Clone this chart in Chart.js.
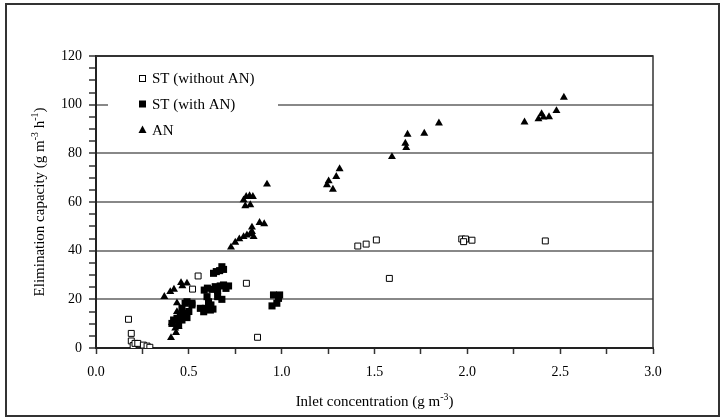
<!doctype html>
<html lang="en">
<head>
<meta charset="utf-8">
<title>Elimination capacity</title>
<script src="https://cdn.jsdelivr.net/npm/chart.js"></script>
<style>
body { margin: 0; background: #fff; }
</style>
</head>
<body>
<canvas id="myChart" width="721" height="418"></canvas>
<script>
// series labels
const seriesNames = ['ST (without AN)', 'ST (with AN)', 'AN'];

// ST (without AN) - open squares
const stWoX = [0.175, 0.19, 0.19, 0.20, 0.21, 0.225, 0.255, 0.275, 0.29, 0.52, 0.55, 0.81, 0.87, 1.41, 1.455, 1.51, 1.58, 1.97, 1.99, 1.98, 2.025, 2.42];
const stWoY = [11.8, 6.0, 2.9, 1.0, 1.9, 1.9, 1.2, 0.8, 0.3, 24.2, 29.6, 26.6, 4.4, 41.9, 42.7, 44.4, 28.6, 44.8, 44.8, 43.7, 44.3, 44.0];

// ST (with AN) - filled squares
const stWX = [0.678, 0.687, 0.648, 0.633, 0.666, 0.583, 0.625, 0.642, 0.669, 0.687, 0.714, 0.655, 0.678, 0.655, 0.598, 0.606, 0.619, 0.616, 0.589, 0.562, 0.58, 0.517, 0.48, 0.463, 0.472, 0.463, 0.956, 0.983, 0.974, 0.948, 0.989, 0.49, 0.517, 0.454, 0.436, 0.418, 0.409, 0.47, 0.445, 0.50, 0.49, 0.60, 0.63, 0.70];
const stWY = [33.4, 32.3, 31.4, 30.7, 31.8, 23.8, 24.1, 25.2, 25.5, 25.9, 25.5, 23.6, 20.0, 21.1, 21.1, 19.0, 17.7, 15.6, 16.3, 16.3, 14.9, 18.4, 18.4, 16.3, 13.6, 11.5, 21.8, 20.4, 18.4, 17.3, 21.8, 19.0, 17.7, 13.6, 12.2, 11.5, 10.1, 14.3, 9.4, 15.0, 12.5, 24.6, 16.0, 24.5];

// AN - filled triangles
const anX = [0.368, 0.40, 0.42, 0.458, 0.465, 0.49, 0.404, 0.431, 0.445, 0.436, 0.427, 0.409, 0.436, 0.427, 0.727, 0.75, 0.772, 0.795, 0.813, 0.831, 0.84, 0.84, 0.849, 0.881, 0.906, 0.921, 0.795, 0.809, 0.827, 0.845, 0.804, 0.831, 1.244, 1.253, 1.276, 1.294, 1.312, 1.594, 1.666, 1.671, 1.678, 1.768, 1.847, 2.308, 2.383, 2.40, 2.41, 2.44, 2.48, 2.52];
const anY = [21.1, 23.1, 24.1, 26.8, 25.5, 26.6, 4.2, 6.3, 8.8, 14.9, 11.5, 10.4, 18.5, 8.1, 41.4, 43.4, 44.8, 45.7, 46.4, 46.9, 47.8, 49.6, 45.7, 51.5, 51.0, 67.3, 60.8, 62.2, 62.5, 62.2, 58.4, 58.8, 67.0, 68.6, 65.2, 70.4, 73.6, 78.6, 84.1, 82.3, 87.8, 88.2, 92.4, 92.8, 94.1, 96.2, 94.8, 95.0, 97.5, 103.0];

const xTitle = [['Inlet concentration (g m', 0], ['-3', 1], [')', 0]];
const yTitle = [['Elimination capacity (g m', 0], ['-3', 1], [' h', 0], ['-1', 1], [')', 0]];

function pts(xs, ys) {
	let out = [];
	for (let i = 0; i < xs.length; i++) out.push({x: xs[i], y: ys[i]});
	return out;
}

const FONT = "'Liberation Serif', 'Times New Roman', serif";

// draw text with superscripts, centred on (0,0) with baseline at 0
function drawRich(ctx, parts, size) {
	let w = 0;
	parts.forEach(p => {
		ctx.font = (p[1] ? size * 0.66 : size) + 'px ' + FONT;
		w += ctx.measureText(p[0]).width;
	});
	let x = -w / 2;
	parts.forEach(p => {
		ctx.font = (p[1] ? size * 0.66 : size) + 'px ' + FONT;
		ctx.fillText(p[0], x, p[1] ? -size * 0.42 : 0);
		x += ctx.measureText(p[0]).width;
	});
}

const decor = {
	id: 'decor',
	beforeDatasetsDraw(chart) {
		const ctx = chart.ctx;
		// white legend background, hides the gridline
		ctx.save();
		ctx.fillStyle = '#fff';
		ctx.fillRect(108, 62, 170, 80);
		ctx.restore();
	},
	afterDraw(chart) {
		const ctx = chart.ctx;
		const a = chart.chartArea;
		ctx.save();
		// plot border right + top
		ctx.strokeStyle = '#333';
		ctx.lineWidth = 1.5;
		ctx.beginPath();
		ctx.moveTo(a.left, a.top);
		ctx.lineTo(a.right, a.top);
		ctx.lineTo(a.right, a.bottom);
		ctx.stroke();
		// outer frame
		ctx.lineWidth = 2;
		ctx.strokeRect(6, 4, 713, 412);

		// legend
		ctx.fillStyle = '#000';
		ctx.textBaseline = 'middle';
		ctx.textAlign = 'left';
		ctx.font = '15px ' + FONT;
		const rows = [78, 104, 130];
		// open square
		ctx.fillStyle = '#fff';
		ctx.strokeStyle = '#000';
		ctx.lineWidth = 1;
		ctx.fillRect(139, rows[0] - 3, 6, 6);
		ctx.strokeRect(139.5, rows[0] - 2.5, 6, 6);
		// filled square
		ctx.fillStyle = '#000';
		ctx.fillRect(139, rows[1] - 3.5, 7, 7);
		// triangle
		ctx.beginPath();
		ctx.moveTo(142.5, rows[2] - 4.5);
		ctx.lineTo(146.5, rows[2] + 3);
		ctx.lineTo(138.5, rows[2] + 3);
		ctx.closePath();
		ctx.fill();
		for (let i = 0; i < seriesNames.length; i++) {
			ctx.fillText(seriesNames[i], 152, rows[i] + 1);
		}

		// axis titles
		ctx.textBaseline = 'alphabetic';
		ctx.save();
		ctx.translate((a.left + a.right) / 2, 406);
		drawRich(ctx, xTitle, 15);
		ctx.restore();
		ctx.save();
		ctx.translate(44, (a.top + a.bottom) / 2);
		ctx.rotate(-Math.PI / 2);
		drawRich(ctx, yTitle, 15);
		ctx.restore();
		ctx.restore();
	}
};

const data = {
	datasets: [{
		label: seriesNames[0],
		data: pts(stWoX, stWoY),
		pointStyle: 'rect',
		pointRadius: 4.2,
		pointBackgroundColor: '#fff',
		pointBorderColor: '#000',
		pointBorderWidth: 1
	}, {
		label: seriesNames[1],
		data: pts(stWX, stWY),
		pointStyle: 'rect',
		pointRadius: 5,
		pointBackgroundColor: '#000',
		pointBorderColor: '#000',
		pointBorderWidth: 0
	}, {
		label: seriesNames[2],
		data: pts(anX, anY),
		pointStyle: 'triangle',
		pointRadius: 4.6,
		pointBackgroundColor: '#000',
		pointBorderColor: '#000',
		pointBorderWidth: 0
	}]
};

const config = {
	type: 'scatter',
	data: data,
	options: {
		responsive: false,
		animation: false,
		events: [],
		layout: { padding: { top: 56, right: 68, left: 0, bottom: 0 } },
		plugins: { legend: { display: false }, tooltip: { enabled: false } },
		scales: {
			x: {
				type: 'linear',
				min: 0, max: 3,
				afterFit: function(s) { s.height = 70; },
				border: { display: true, color: '#222', width: 2 },
				grid: { drawOnChartArea: false, drawTicks: true, tickLength: 6, tickColor: '#333', tickWidth: 1.5 },
				ticks: {
					stepSize: 0.25,
					autoSkip: false,
					maxRotation: 0,
					padding: 10,
					color: '#000',
					font: { family: FONT, size: 14 },
					callback: function(v) {
						return Math.abs(v * 2 - Math.round(v * 2)) < 1e-6 ? v.toFixed(1) : '';
					}
				}
			},
			y: {
				min: 0, max: 120,
				afterFit: function(s) { s.width = 96; },
				border: { display: true, color: '#222', width: 2 },
				grid: {
					drawTicks: true,
					tickLength: 7,
					tickColor: '#333',
					tickWidth: 1.5,
					lineWidth: 2,
					color: function(c) {
						const v = c.tick.value;
						if (v === 120 || v === 0) return '#333';
						if (v % 20 === 0) return '#888';
						return 'rgba(0,0,0,0)';
					}
				},
				ticks: {
					stepSize: 5,
					autoSkip: false,
					padding: 7,
					color: '#000',
					font: { family: FONT, size: 14 },
					callback: function(v) { return v % 20 === 0 ? String(v) : ''; }
				}
			}
		}
	},
	plugins: [decor]
};

const myChart = new Chart(document.getElementById('myChart'), config);
</script>
</body>
</html>
